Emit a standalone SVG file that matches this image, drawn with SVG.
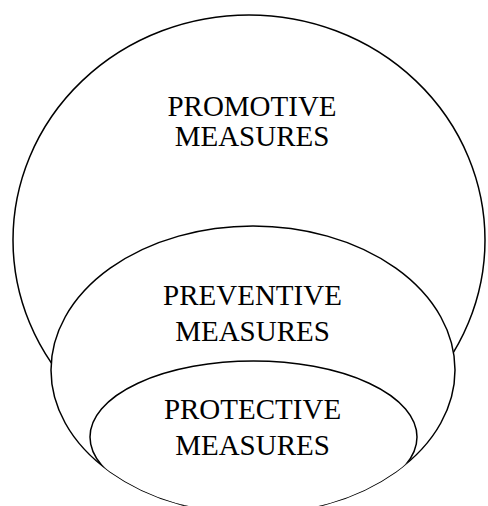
<svg xmlns="http://www.w3.org/2000/svg" width="488" height="506" viewBox="0 0 488 506">
<style>
.ring{fill:#fff;stroke:#000;stroke-width:1.5}
.lbl{font-family:"Liberation Serif","Times New Roman",serif;font-size:29px;fill:#000;text-anchor:middle}
</style>
<defs>
<clipPath id="midClip"><ellipse cx="253" cy="370" rx="202" ry="144"/></clipPath>
</defs>
<rect width="488" height="506" fill="#fff"/>
<g id="promotive">
<ellipse class="ring" cx="249" cy="240" rx="236" ry="225"/>
<text class="lbl" x="252" y="116">PROMOTIVE</text>
<text class="lbl" x="252" y="146">MEASURES</text>
</g>
<g id="preventive">
<ellipse class="ring" cx="253" cy="370" rx="202" ry="144"/>
<text class="lbl" x="252.5" y="305">PREVENTIVE</text>
<text class="lbl" x="252.5" y="341">MEASURES</text>
</g>
<g id="protective">
<ellipse class="ring" cx="253.5" cy="437" rx="163.5" ry="76" clip-path="url(#midClip)"/>
<text class="lbl" x="252.5" y="419">PROTECTIVE</text>
<text class="lbl" x="252.5" y="455">MEASURES</text>
</g>
<g id="connectors"></g>
</svg>
